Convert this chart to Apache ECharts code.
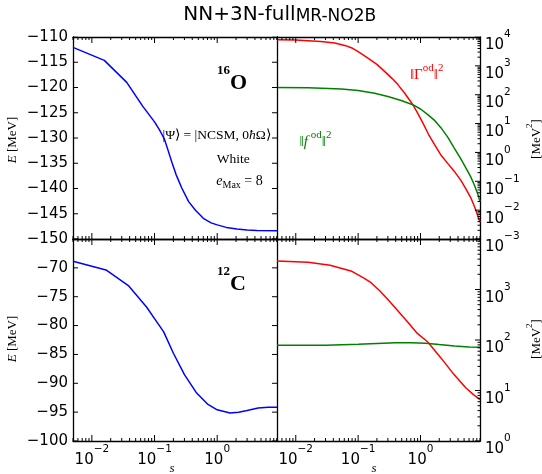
<!DOCTYPE html>
<html><head><meta charset="utf-8">
<script src="https://cdn.jsdelivr.net/npm/echarts@6/dist/echarts.min.js"></script>
<style>html,body{margin:0;padding:0;background:#fff}#c{width:542px;height:474px}</style>
</head><body><div id="c"></div>
<script>
// ---------- data ----------
const sRange = [0.005, 9];
// 16O energy [MeV]
const sO16E = [0.005, 0.0158, 0.036, 0.065, 0.1, 0.12, 0.1435, 0.165, 0.189, 0.22, 0.272, 0.35, 0.45, 0.6, 0.8, 1.0, 1.4, 2.06, 3, 4.3, 9];
const eO16  = [-112.06, -114.63, -118.99, -123.74, -126.8, -128.4, -130.2, -132.5, -134.8, -137.2, -139.9, -142.6, -144.3, -145.9, -146.8, -147.2, -147.7, -148.0, -148.2, -148.3, -148.36];
// 16O norms [MeV^2]
const sO16G = [0.005, 0.01, 0.0158, 0.0251, 0.0422, 0.0631, 0.0794, 0.1, 0.12, 0.1435, 0.2, 0.265, 0.355, 0.434, 0.562, 0.741, 0.891, 1.09, 1.35, 1.70, 2.14, 2.73, 3.47, 4.47, 5.37, 6.44, 7.41, 8.32, 9];
const gO16  = [8054, 7852, 7413, 6918, 6166, 5012, 4169, 3090, 2399, 1862, 1122, 646, 355, 224, 110, 47.9, 24.0, 10.5, 4.17, 1.78, 0.794, 0.417, 0.224, 0.105, 0.0537, 0.0263, 0.0126, 0.0063, 0.0038];
const sO16F = [0.005, 0.0158, 0.054, 0.1, 0.184, 0.3, 0.49, 0.75, 1.0, 1.31, 1.70, 2.14, 2.75, 3.48, 4.37, 5.36, 6.31, 7.28, 8.32, 9];
const fO16  = [179.5, 174, 158, 141, 112, 87, 63, 45.1, 32.0, 20.4, 12.6, 7.08, 3.31, 1.41, 0.631, 0.288, 0.151, 0.0759, 0.0355, 0.020];
// 12C energy [MeV]
const sC12E = [0.005, 0.0168, 0.0382, 0.0751, 0.1, 0.14, 0.2, 0.3, 0.47, 0.7, 1.0, 1.6, 2.2, 3.0, 4.5, 6.5, 9];
const eC12  = [-68.86, -70.36, -73.07, -76.83, -78.8, -81.1, -84.8, -88.5, -91.7, -93.6, -94.6, -95.15, -95.0, -94.7, -94.3, -94.15, -94.15];
// 12C norms [MeV^2]
const sC12G = [0.005, 0.0158, 0.0355, 0.0794, 0.126, 0.163, 0.224, 0.3, 0.447, 0.627, 0.891, 1.31, 2.14, 3.48, 5.36, 7.08, 9];
const gC12  = [3673, 3467, 3020, 2291, 1660, 1349, 933, 631, 363, 224, 135, 91.2, 43.7, 20.4, 11.2, 8.3, 6.6];
const sC12F = [0.005, 0.03, 0.1, 0.2, 0.4, 0.7, 1.2, 2, 3.5, 6, 9];
const fC12  = [78.5, 79, 82, 85.5, 88, 88.5, 86, 81, 76, 73, 71.6];

// tick values / labels
const sTicks = [0.01, 0.1, 1];
const eTicksO16 = [-150, -145, -140, -135, -130, -125, -120, -115, -110];
const eTicksC12 = [-100, -95, -90, -85, -80, -75, -70, -65];
const eLabelsC12 = [-100, -95, -90, -85, -80, -75, -70];
const normTicksO16 = [1e-3, 1e-2, 1e-1, 1, 10, 100, 1000, 10000];
const normTicksC12 = [1, 10, 100, 1000, 10000];
const normLabelsC12 = [1, 10, 100, 1000];

// ---------- helpers ----------
const SANS = 'DejaVu Sans', SERIF = 'Liberation Serif';
function minorTicks(lo, hi) {
  const out = [];
  for (let e = -4; e <= 4; e++) for (let k = 2; k <= 9; k++) {
    const v = +(k * Math.pow(10, e)).toPrecision(3);
    if (v >= lo * 0.9999 && v <= hi * 1.0001) out.push(v);
  }
  return out;
}
function pow10Label(v) {
  const e = Math.round(Math.log10(v));
  return '{b|10}{s|' + (e < 0 ? '\u2212' : '') + Math.abs(e) + '}';
}
const richLog = {
  b: { fontFamily: SANS, fontSize: 15, lineHeight: 24, verticalAlign: 'bottom', color: '#000' },
  s: { fontFamily: SANS, fontSize: 10.5, lineHeight: 10, verticalAlign: 'top', color: '#000' }
};
const zip = (a, b) => a.map((x, i) => [x, b[i]]);
const LINE = { show: true, onZero: false, lineStyle: { color: '#000', width: 1.3 } };

const grids = [
  { left: 73, top: 37, width: 204, height: 202 },
  { left: 277, top: 37, width: 203, height: 202 },
  { left: 73, top: 239, width: 204, height: 202 },
  { left: 277, top: 239, width: 203, height: 202 }
];
const xAxes = [];
grids.forEach((g, gi) => {
  const base = { gridIndex: gi, type: 'log', logBase: 10, min: sRange[0], max: sRange[1],
    splitLine: { show: false }, axisTick: { show: false } };
  xAxes.push(Object.assign({}, base, { position: 'bottom', axisLine: LINE,
    axisLabel: gi >= 2 ? { show: true, customValues: sTicks, margin: 3, formatter: v => pow10Label(v), rich: richLog } : { show: false } }));
  xAxes.push(Object.assign({}, base, { position: 'top', axisLine: LINE, axisLabel: { show: false } }));
});
function eAxes(gi, ticks, labels) {
  const base = { gridIndex: gi, type: 'value', min: ticks[0], max: ticks[ticks.length - 1], interval: 5,
    splitLine: { show: false }, axisTick: { show: false } };
  return [
    Object.assign({}, base, { position: 'left', axisLine: LINE,
      axisLabel: { show: true, customValues: labels, margin: 5, fontFamily: SANS, fontSize: 15, color: '#000',
        formatter: v => (v < 0 ? '\u2212' : '') + Math.abs(v) } }),
    Object.assign({}, base, { position: 'right', axisLine: LINE, axisLabel: { show: false } })
  ];
}
function normAxes(gi, ticks, labels) {
  return [Object.assign({ gridIndex: gi, type: 'log', logBase: 10, min: ticks[0], max: ticks[ticks.length - 1],
    splitLine: { show: false }, axisTick: { show: false }, position: 'right', axisLine: LINE,
    axisLabel: { show: true, customValues: labels, margin: 5, padding: [8, 0, 0, 0], formatter: v => pow10Label(v), rich: richLog } })];
}
const yAxes = [].concat(eAxes(0, eTicksO16, eTicksO16), normAxes(1, normTicksO16, normTicksO16),
  eAxes(2, eTicksC12, eLabelsC12), normAxes(3, normTicksC12, normLabelsC12));
const mainY = [0, 2, 3, 5];
const yTickSets = [eTicksO16, normTicksO16, eTicksC12, normTicksC12];

// ---------- tick marks: short segments drawn through each panel's own axes ----------
function tickSeriesFor(gi) {
  const g = grids[gi];
  const yt = yTickSets[gi];
  const yLo = yt[0], yHi = yt[yt.length - 1];
  const logY = gi % 2 === 1;
  const xdpp = (Math.log10(sRange[1]) - Math.log10(sRange[0])) / g.width;
  const ydpp = logY ? (Math.log10(yHi) - Math.log10(yLo)) / g.height : (yHi - yLo) / g.height;
  const yShift = (v, px) => logY ? v * Math.pow(10, px * ydpp) : v + px * ydpp;
  const xShift = (v, px) => v * Math.pow(10, px * xdpp);
  const inner = [], outer = [];
  const seg = (arr, a, b) => { arr.push(a, b, [b[0], '-']); };
  sTicks.forEach(v => { seg(inner, [v, yLo], [v, yShift(yLo, 6)]); seg(inner, [v, yHi], [v, yShift(yHi, -6)]); });
  minorTicks(sRange[0], sRange[1]).forEach(v => { seg(inner, [v, yLo], [v, yShift(yLo, 3)]); seg(inner, [v, yHi], [v, yShift(yHi, -3)]); });
  if (!logY) {
    yt.forEach(v => {
      seg(inner, [sRange[0], v], [xShift(sRange[0], 5), v]);
      seg(inner, [xShift(sRange[1], -5), v], [sRange[1], v]);
      seg(outer, [sRange[1], v], [xShift(sRange[1], 5), v]);
    });
  } else {
    yt.forEach(v => seg(inner, [xShift(sRange[1], -5), v], [sRange[1], v]));
    minorTicks(yLo, yHi).forEach(v => seg(inner, [xShift(sRange[1], -2.5), v], [sRange[1], v]));
  }
  const mk = (data, clip) => ({ type: 'line', xAxisIndex: gi * 2, yAxisIndex: mainY[gi], data: data,
    symbol: 'none', showSymbol: false, connectNulls: false, clip: clip, silent: true, z: 4,
    lineStyle: { color: '#000', width: 1 } });
  const out = [mk(inner, true)];
  if (outer.length) out.push(mk(outer, false));
  return out;
}

function line(x, y, gi, color) {
  return { type: 'line', xAxisIndex: gi * 2, yAxisIndex: mainY[gi], data: zip(x, y), showSymbol: false, symbol: 'none',
    lineStyle: { color: color, width: 1.5 }, itemStyle: { color: color }, clip: true, smooth: false, z: 3 };
}
const BLUE = '#0000ff', RED = '#ff0000', GREEN = '#008000';
const series = [
  line(sO16E, eO16, 0, BLUE), line(sO16G, gO16, 1, RED), line(sO16F, fO16, 1, GREEN),
  line(sC12E, eC12, 2, BLUE), line(sC12G, gC12, 3, RED), line(sC12F, fC12, 3, GREEN)
].concat(tickSeriesFor(0), tickSeriesFor(1), tickSeriesFor(2), tickSeriesFor(3));

// ---------- texts ----------
function txt(x, y, text, opts) {
  return Object.assign({ type: 'text', x: x, y: y, silent: true, z: 10,
    style: Object.assign({ text: text, fill: '#000', fontFamily: SERIF, fontSize: 13, align: 'center', verticalAlign: 'middle' }, opts.style || {}) },
    opts.el || {});
}
const normRich = (color) => ({
  s: { fontFamily: SERIF, fontSize: 11, lineHeight: 11, verticalAlign: 'top', fill: color, color: color },
  n: { fontFamily: SERIF, fontSize: 15, lineHeight: 20, verticalAlign: 'bottom', fill: color, color: color },
  i: { fontFamily: SERIF, fontSize: 15, fontStyle: 'italic', lineHeight: 20, verticalAlign: 'bottom', fill: color, color: color }
});
const nucRich = {
  b: { fontFamily: SERIF, fontWeight: 'bold', fontSize: 22, lineHeight: 30, verticalAlign: 'bottom' },
  s: { fontFamily: SERIF, fontWeight: 'bold', fontSize: 13, lineHeight: 14, verticalAlign: 'top' }
};
const mev2Rich = {
  n: { fontFamily: SERIF, fontSize: 13, lineHeight: 18, verticalAlign: 'bottom' },
  s: { fontFamily: SERIF, fontSize: 9, lineHeight: 9, verticalAlign: 'top' }
};
const graphics = [
  txt(279.7, 3, '{a|NN+3N-full}{b|MR-NO2B}', { style: { verticalAlign: 'top', rich: {
    a: { fontFamily: SANS, fontSize: 20, lineHeight: 22, verticalAlign: 'bottom' },
    b: { fontFamily: SANS, fontSize: 17, lineHeight: 12, verticalAlign: 'bottom' } } } }),
  txt(217, 64, '{s|16}{b|O}', { style: { align: 'left', verticalAlign: 'top', rich: nucRich } }),
  txt(217, 265, '{s|12}{b|C}', { style: { align: 'left', verticalAlign: 'top', rich: nucRich } }),
  txt(216.7, 135, '|\u03A8\u27E9 = |NCSM, 0{i|\u0127}\u03A9\u27E9', { style: { fontSize: 13.5, rich: {
    i: { fontFamily: SERIF, fontSize: 13.5, fontStyle: 'italic' } } } }),
  txt(233.3, 159, 'White', { style: { fontSize: 13.5 } }),
  txt(239.5, 182, '{i|e}{sub|Max}{n| = 8}', { style: { rich: {
    i: { fontFamily: SERIF, fontSize: 14, fontStyle: 'italic', lineHeight: 16, verticalAlign: 'top' },
    n: { fontFamily: SERIF, fontSize: 14, lineHeight: 16, verticalAlign: 'top' },
    sub: { fontFamily: SERIF, fontSize: 10, lineHeight: 10, verticalAlign: 'bottom' } } } }),
  txt(426.7, 73, '{n|\u2016\u0393}{s|od}{n|\u2016}{s|2}', { style: { fill: RED, rich: normRich(RED) } }),
  txt(315.5, 140, '{n|\u2016}{i|f}{s| od}{n|\u2016}{s|2}', { style: { fill: GREEN, rich: normRich(GREEN) } }),
  txt(13, 140, '{i|E} [MeV]', { el: { rotation: Math.PI / 2 }, style: { rich: { i: { fontFamily: SERIF, fontSize: 13, fontStyle: 'italic' } } } }),
  txt(13, 339, '{i|E} [MeV]', { el: { rotation: Math.PI / 2 }, style: { rich: { i: { fontFamily: SERIF, fontSize: 13, fontStyle: 'italic' } } } }),
  txt(534, 139, '{n|[MeV}{s|2}{n|]}', { el: { rotation: Math.PI / 2 }, style: { rich: mev2Rich } }),
  txt(534, 339, '{n|[MeV}{s|2}{n|]}', { el: { rotation: Math.PI / 2 }, style: { rich: mev2Rich } }),
  txt(172, 469, 's', { style: { fontSize: 13, fontStyle: 'italic' } }),
  txt(374, 469, 's', { style: { fontSize: 13, fontStyle: 'italic' } })
];

const chart = echarts.init(document.getElementById('c'), null, { renderer: 'canvas' });
chart.setOption({ animation: false, backgroundColor: '#fff', grid: grids, xAxis: xAxes, yAxis: yAxes,
  series: series, graphic: { elements: graphics } });
</script>
</body></html>
